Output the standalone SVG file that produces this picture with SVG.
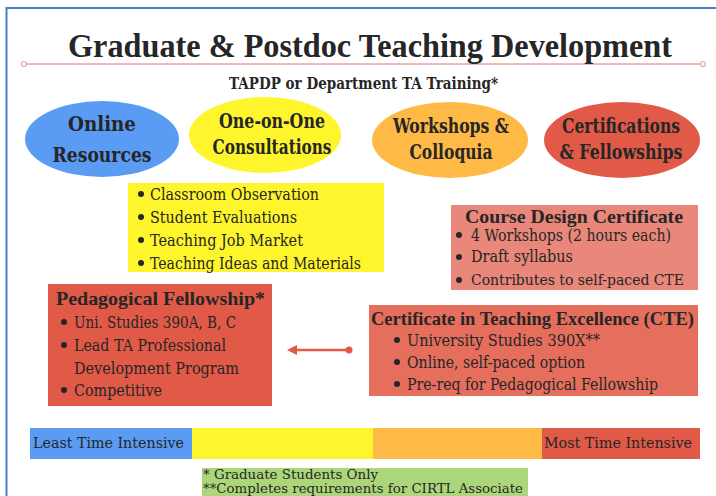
<svg xmlns="http://www.w3.org/2000/svg" width="716" height="496" viewBox="0 0 716 496">
<style>
text{font-family:"DejaVu Serif","Liberation Serif",serif;fill:#262626}
.t{font-family:"Liberation Serif","DejaVu Serif",serif;font-size:34px;font-weight:bold}
.sub{font-size:16px;font-weight:bold}
.el{font-size:20px;font-weight:bold;text-anchor:middle}
.b{font-size:17px}
.h{font-family:"Liberation Serif","DejaVu Serif",serif;font-size:19px;font-weight:bold}
.bar{font-size:15px}
.n{font-size:12px}
.dot{fill:#262626}
</style>
<defs>
<marker id="ah" viewBox="0 0 10 10" refX="1" refY="5" markerWidth="4" markerHeight="4" orient="auto-start-reverse">
<path d="M0,0 L10,5 L0,10 z" fill="#e05a47"/>
</marker>
</defs>
<rect width="716" height="496" fill="#ffffff"/>
<path d="M6.5,496 V8 H716" fill="none" stroke="#4a7fc8" stroke-width="2"/>
<g id="title">
<line x1="26.5" y1="64" x2="700.5" y2="64" stroke="#e8a99e" stroke-width="1.5"/>
<circle cx="24" cy="64" r="2.5" fill="#fff" stroke="#e8a99e" stroke-width="1.2"/>
<circle cx="703" cy="64" r="2.5" fill="#fff" stroke="#e8a99e" stroke-width="1.2"/>
<text class="t" x="68" y="57" textLength="604" lengthAdjust="spacingAndGlyphs">Graduate &amp; Postdoc Teaching Development</text>
<text class="sub" x="229" y="89" textLength="269" lengthAdjust="spacingAndGlyphs">TAPDP or Department TA Training*</text>
</g>
<g id="online">
<ellipse cx="102" cy="139" rx="77" ry="38" fill="#5a9bf4"/>
<text class="el" x="102" y="131" textLength="68" lengthAdjust="spacingAndGlyphs">Online</text>
<text class="el" x="102" y="162" textLength="99" lengthAdjust="spacingAndGlyphs">Resources</text>
</g>
<g id="oneonone">
<ellipse cx="265" cy="135" rx="76" ry="38" fill="#fff52c"/>
<text class="el" x="272" y="128" textLength="106" lengthAdjust="spacingAndGlyphs">One-on-One</text>
<text class="el" x="272" y="154" textLength="119" lengthAdjust="spacingAndGlyphs">Consultations</text>
</g>
<g id="workshops">
<ellipse cx="450" cy="140" rx="78" ry="38" fill="#ffb946"/>
<text class="el" x="451" y="133" textLength="116" lengthAdjust="spacingAndGlyphs">Workshops &amp;</text>
<text class="el" x="451" y="159" textLength="83" lengthAdjust="spacingAndGlyphs">Colloquia</text>
</g>
<g id="certifications">
<ellipse cx="622" cy="140" rx="78" ry="38" fill="#e05a47"/>
<text class="el" x="621" y="133" textLength="118" lengthAdjust="spacingAndGlyphs">Certifications</text>
<text class="el" x="621" y="159" textLength="123" lengthAdjust="spacingAndGlyphs">&amp; Fellowships</text>
</g>
<g id="consult-list">
<rect x="128" y="183" width="256" height="89" fill="#fff52c"/>
<circle class="dot" cx="141" cy="194" r="3"/>
<circle class="dot" cx="141" cy="217" r="3"/>
<circle class="dot" cx="141" cy="240" r="3"/>
<circle class="dot" cx="141" cy="263" r="3"/>
<text class="b" x="150" y="200" textLength="169" lengthAdjust="spacingAndGlyphs">Classroom Observation</text>
<text class="b" x="150" y="223" textLength="147" lengthAdjust="spacingAndGlyphs">Student Evaluations</text>
<text class="b" x="150" y="246" textLength="153" lengthAdjust="spacingAndGlyphs">Teaching Job Market</text>
<text class="b" x="150" y="269" textLength="211" lengthAdjust="spacingAndGlyphs">Teaching Ideas and Materials</text>
</g>
<g id="course-design">
<rect x="451" y="205" width="247" height="85" fill="#e8877a"/>
<text class="h" x="465" y="223" textLength="218" lengthAdjust="spacingAndGlyphs">Course Design Certificate</text>
<circle class="dot" cx="459" cy="235" r="3"/>
<circle class="dot" cx="459" cy="257" r="3"/>
<circle class="dot" cx="459" cy="280" r="3"/>
<text class="b" x="471" y="241" textLength="200" lengthAdjust="spacingAndGlyphs">4 Workshops (2 hours each)</text>
<text class="b" x="471" y="262" textLength="102" lengthAdjust="spacingAndGlyphs">Draft syllabus</text>
<text class="b" x="471" y="285" style="font-size:15.5px" textLength="213" lengthAdjust="spacingAndGlyphs">Contributes to self-paced CTE</text>
</g>
<g id="pedagogical">
<rect x="48" y="284" width="224" height="122" fill="#e05a47"/>
<text class="h" x="56" y="305" textLength="209" lengthAdjust="spacingAndGlyphs">Pedagogical Fellowship*</text>
<circle class="dot" cx="64" cy="322" r="3"/>
<circle class="dot" cx="64" cy="345" r="3"/>
<circle class="dot" cx="64" cy="390" r="3"/>
<text class="b" x="74" y="328" textLength="162" lengthAdjust="spacingAndGlyphs">Uni. Studies 390A, B, C</text>
<text class="b" x="74" y="351" textLength="152" lengthAdjust="spacingAndGlyphs">Lead TA Professional</text>
<text class="b" x="74" y="374" textLength="165" lengthAdjust="spacingAndGlyphs">Development Program</text>
<text class="b" x="74" y="396" textLength="88" lengthAdjust="spacingAndGlyphs">Competitive</text>
</g>
<g id="cte">
<rect x="369" y="305" width="329" height="91" fill="#e56e5c"/>
<text class="h" x="371" y="325" textLength="323" lengthAdjust="spacingAndGlyphs">Certificate in Teaching Excellence (CTE)</text>
<circle class="dot" cx="397" cy="340" r="3"/>
<circle class="dot" cx="397" cy="362" r="3"/>
<circle class="dot" cx="397" cy="384" r="3"/>
<text class="b" x="407" y="346" textLength="193" lengthAdjust="spacingAndGlyphs">University Studies 390X**</text>
<text class="b" x="407" y="368" textLength="178" lengthAdjust="spacingAndGlyphs">Online, self-paced option</text>
<text class="b" x="407" y="390" textLength="251" lengthAdjust="spacingAndGlyphs">Pre-req for Pedagogical Fellowship</text>
</g>
<g id="connectors">
<line x1="349" y1="350" x2="296" y2="350" stroke="#e05a47" stroke-width="2.5" marker-end="url(#ah)"/>
<circle cx="349" cy="350" r="3.5" fill="#e05a47"/>
</g>
<g id="time-bar">
<rect x="30" y="428" width="162" height="31" fill="#5a9bf4"/>
<rect x="192" y="428" width="181" height="31" fill="#fff52c"/>
<rect x="373" y="428" width="169" height="31" fill="#ffb946"/>
<rect x="542" y="428" width="158" height="31" fill="#e05a47"/>
<text class="bar" x="33" y="448" textLength="151" lengthAdjust="spacingAndGlyphs">Least Time Intensive</text>
<text class="bar" x="544" y="448" textLength="148" lengthAdjust="spacingAndGlyphs">Most Time Intensive</text>
</g>
<g id="notes">
<rect x="202" y="468" width="326" height="28" fill="#acd67a"/>
<text class="n" x="203" y="479" textLength="175" lengthAdjust="spacingAndGlyphs">* Graduate Students Only</text>
<text class="n" x="203" y="493" textLength="320" lengthAdjust="spacingAndGlyphs">**Completes requirements for CIRTL Associate</text>
</g>
</svg>
